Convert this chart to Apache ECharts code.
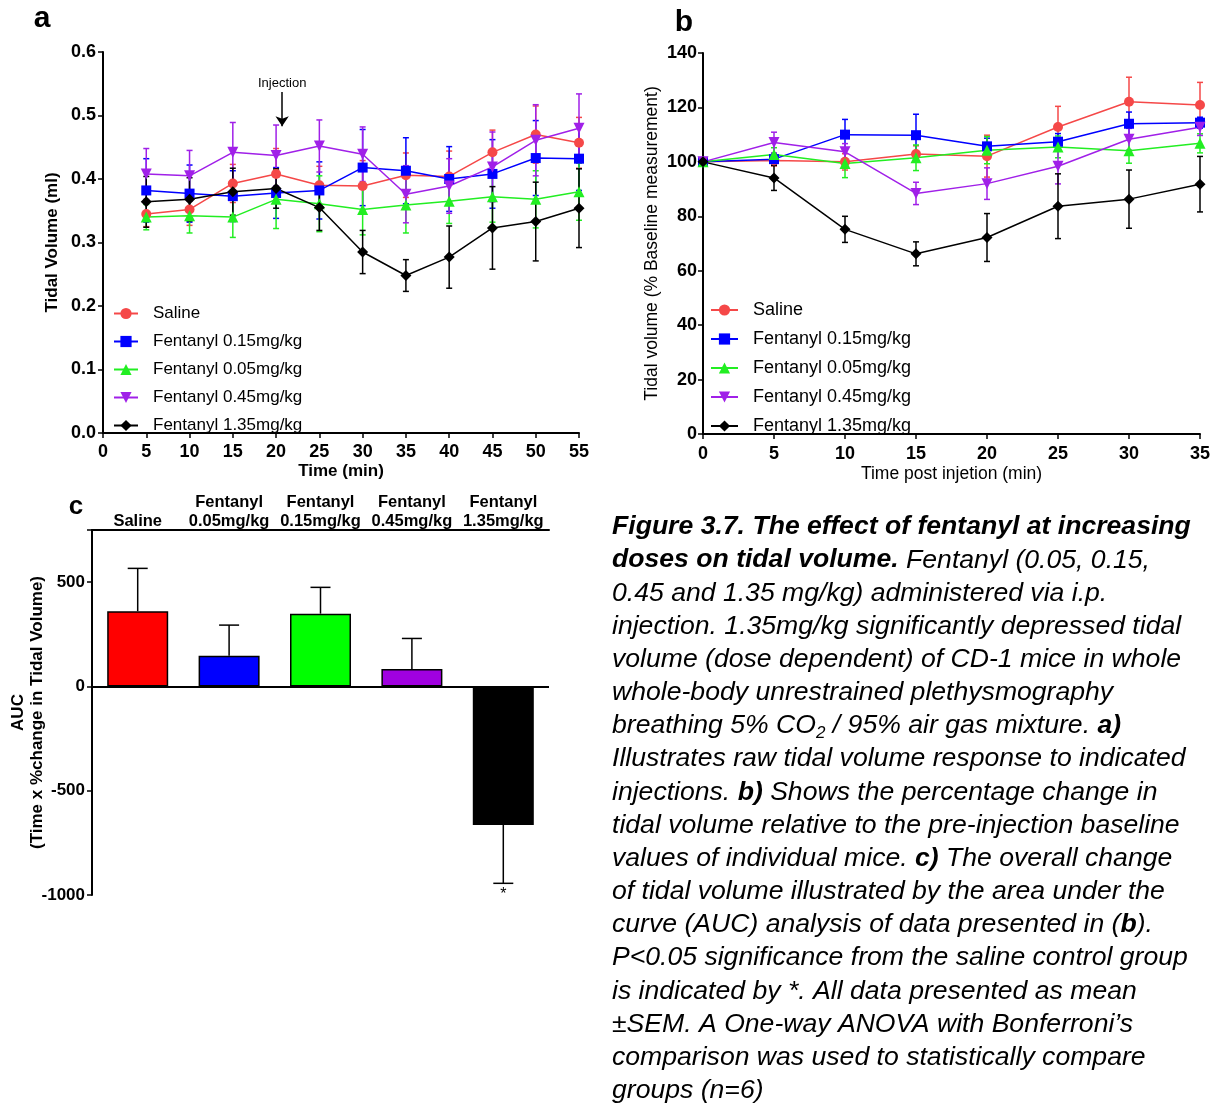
<!DOCTYPE html>
<html>
<head>
<meta charset="utf-8">
<script src="https://cdn.jsdelivr.net/npm/echarts@6/dist/echarts.min.js"></script>
<style>
html, body { margin: 0; padding: 0; background: #fff; }
#main { width: 1221px; height: 1104px; }
</style>
</head>
<body>
<div id="main"></div>
<script>
// ---- groups ----
const groupNames = ['Saline', 'Fentanyl 0.15mg/kg', 'Fentanyl 0.05mg/kg', 'Fentanyl 0.45mg/kg', 'Fentanyl 1.35mg/kg'];

// ---- panel a: raw tidal volume (ml) ----
const timeA = [5, 10, 15, 20, 25, 30, 35, 40, 45, 50, 55];
const salineA    = [0.345, 0.352, 0.393, 0.408, 0.390, 0.389, 0.406, 0.404, 0.442, 0.470, 0.457];
const salineAErr = [0.020, 0.025, 0.030, 0.040, 0.030, 0.040, 0.035, 0.040, 0.035, 0.045, 0.040];
const f015A      = [0.382, 0.377, 0.373, 0.378, 0.382, 0.418, 0.413, 0.400, 0.408, 0.433, 0.432];
const f015AErr   = [0.050, 0.045, 0.040, 0.040, 0.045, 0.060, 0.052, 0.051, 0.054, 0.059, 0.050];
const f005A      = [0.340, 0.342, 0.340, 0.368, 0.361, 0.352, 0.359, 0.365, 0.372, 0.368, 0.380];
const f005AErr   = [0.020, 0.027, 0.032, 0.046, 0.044, 0.040, 0.044, 0.035, 0.040, 0.045, 0.045];
const f045A      = [0.408, 0.405, 0.442, 0.437, 0.452, 0.439, 0.376, 0.389, 0.419, 0.461, 0.480];
const f045AErr   = [0.040, 0.040, 0.047, 0.048, 0.041, 0.043, 0.045, 0.043, 0.055, 0.056, 0.054];
const f135A      = [0.364, 0.368, 0.380, 0.385, 0.355, 0.285, 0.248, 0.277, 0.323, 0.333, 0.354];
const f135AErr   = [0.040, 0.034, 0.037, 0.031, 0.036, 0.034, 0.025, 0.049, 0.065, 0.062, 0.062];
const injectionTime = 20.7;

// ---- panel b: % of baseline ----
const timeB = [0, 5, 10, 15, 20, 25, 30, 35];
const salineB    = [100, 100.5, 100.0, 102.9, 102.1, 112.8, 122.1, 120.9];
const salineBErr = [0, 2.0, 3.0, 3.0, 7.7, 7.6, 9.0, 8.3];
const f015B      = [100, 101.0, 110.0, 109.8, 105.7, 107.4, 114.0, 114.4];
const f015BErr   = [0, 2.0, 5.6, 7.7, 3.0, 3.0, 4.3, 2.0];
const f005B      = [100, 102.7, 99.4, 101.5, 104.3, 105.5, 104.1, 106.8];
const f005BErr   = [0, 2.5, 5.2, 4.7, 5.0, 4.0, 4.6, 3.5];
const f045B      = [100, 107.1, 103.7, 88.4, 92.0, 98.4, 108.3, 112.7];
const f045BErr   = [0, 3.8, 3.0, 4.1, 5.8, 6.5, 4.0, 3.0];
const f135B      = [100, 94.1, 75.2, 66.2, 72.2, 83.7, 86.3, 91.8];
const f135BErr   = [0, 4.6, 4.8, 4.4, 8.8, 11.9, 10.7, 10.2];

// ---- panel c: AUC ----
const aucGroups = ['Saline', 'Fentanyl\n0.05mg/kg', 'Fentanyl\n0.15mg/kg', 'Fentanyl\n0.45mg/kg', 'Fentanyl\n1.35mg/kg'];
const aucMean   = [361, 147, 349, 83, -664];
const aucErr    = [205, 147, 126, 147, 280];
const aucSig    = ['', '', '', '', '*'];

// ---- styles ----
const FONT = 'Liberation Sans, Arial, Helvetica, sans-serif';
const lineColors = ['#f54848', '#0000ff', '#22ee22', '#a020e8', '#000000'];
const lineSymbols = ['circle', 'rect', 'triangle', 'triangle', 'diamond'];
const symbolRot = [0, 0, 0, 180, 0];
const symbolSz = [10, 10, 11, 11, 11];
const barColors = ['#ff0000', '#0000ff', '#00ff00', '#a000e0', '#000000'];

const seriesA = [salineA, f015A, f005A, f045A, f135A];
const errA = [salineAErr, f015AErr, f005AErr, f045AErr, f135AErr];
const seriesB = [salineB, f015B, f005B, f045B, f135B];
const errB = [salineBErr, f015BErr, f005BErr, f045BErr, f135BErr];

function errorBars(axisIdx, xs, ys, errs, color, capHalf) {
  return {
    type: 'custom', xAxisIndex: axisIdx, yAxisIndex: axisIdx, z: 1, silent: true,
    data: xs.map((x, i) => [x, ys[i] - errs[i], ys[i] + errs[i]]),
    renderItem(params, api) {
      const x = api.value(0);
      const lo = api.coord([x, api.value(1)]);
      const hi = api.coord([x, api.value(2)]);
      const st = { stroke: color, lineWidth: 1.5 };
      return {
        type: 'group', children: [
          { type: 'line', shape: { x1: lo[0], y1: lo[1], x2: hi[0], y2: hi[1] }, style: st },
          { type: 'line', shape: { x1: lo[0] - capHalf, y1: lo[1], x2: lo[0] + capHalf, y2: lo[1] }, style: st },
          { type: 'line', shape: { x1: hi[0] - capHalf, y1: hi[1], x2: hi[0] + capHalf, y2: hi[1] }, style: st }
        ]
      };
    }
  };
}

function lineSeries(axisIdx, xs, ys, i) {
  return {
    type: 'line', name: groupNames[i], xAxisIndex: axisIdx, yAxisIndex: axisIdx, z: 3,
    data: xs.map((x, k) => [x, ys[k]]),
    symbol: lineSymbols[i], symbolRotate: symbolRot[i], symbolSize: symbolSz[i],
    itemStyle: { color: lineColors[i] },
    lineStyle: { color: lineColors[i], width: 1.5 }
  };
}

const series = [];
for (let i = 0; i < 5; i++) series.push(errorBars(0, timeA, seriesA[i], errA[i], lineColors[i], 3));
for (let i = 0; i < 5; i++) series.push(lineSeries(0, timeA, seriesA[i], i));
for (let i = 0; i < 5; i++) series.push(errorBars(1, timeB, seriesB[i], errB[i], lineColors[i], 3));
for (let i = 0; i < 5; i++) series.push(lineSeries(1, timeB, seriesB[i], i));

// injection arrow on panel a
series[5].markLine = {
  silent: true, animation: false,
  symbol: ['none', 'arrow'], symbolSize: 10,
  lineStyle: { color: '#000', width: 1.5, type: 'solid' },
  label: { show: true, position: 'start', formatter: 'Injection', fontSize: 13, color: '#000', fontFamily: FONT, distance: 2 },
  data: [[{ coord: [injectionTime, 0.537] }, { coord: [injectionTime, 0.483] }]]
};

// panel c bars
series.push({
  type: 'bar', xAxisIndex: 2, yAxisIndex: 2, barWidth: 61, z: 2,
  data: aucMean.map((v, i) => ({ value: v, itemStyle: { color: barColors[i] } })),
  itemStyle: { borderColor: '#000', borderWidth: 1.5 },
  markLine: {
    silent: true, animation: false, symbol: 'none',
    lineStyle: { color: '#000', width: 2, type: 'solid' },
    label: { show: false },
    data: [{ yAxis: 0 }]
  }
});
series.push({
  type: 'custom', xAxisIndex: 2, yAxisIndex: 2, z: 1, silent: true,
  data: aucMean.map((v, i) => [i, v, v + (v < 0 ? -aucErr[i] : aucErr[i])]),
  renderItem(params, api) {
    const i = api.value(0);
    const a = api.coord([i, api.value(1)]);
    const b = api.coord([i, api.value(2)]);
    const st = { stroke: '#000', lineWidth: 1.5 };
    const kids = [
      { type: 'line', shape: { x1: a[0], y1: a[1], x2: b[0], y2: b[1] }, style: st },
      { type: 'line', shape: { x1: b[0] - 10, y1: b[1], x2: b[0] + 10, y2: b[1] }, style: st }
    ];
    if (aucSig[i]) {
      kids.push({ type: 'text', style: { text: aucSig[i], x: b[0], y: b[1] + 3, align: 'center', verticalAlign: 'top', font: '16px ' + FONT, fill: '#000' } });
    }
    return { type: 'group', children: kids };
  }
});

// ---- axes helpers ----
const axisLineStyle = { show: true, lineStyle: { color: '#000', width: 2 } };
const tickStyle = { show: true, inside: false, length: 5, lineStyle: { color: '#000', width: 1.5 } };
function labelStyle(size) { return { color: '#000', fontWeight: 'bold', fontSize: size, fontFamily: FONT }; }

// ---- caption ----
const captionLines = [
  [['bi', 'Figure 3.7. The effect of fentanyl at increasing']],
  [['bi', 'doses on tidal volume.'], ['i', ' Fentanyl (0.05, 0.15,']],
  [['i', '0.45 and 1.35 mg/kg) administered via i.p.']],
  [['i', 'injection. 1.35mg/kg significantly depressed tidal']],
  [['i', 'volume (dose dependent) of CD-1 mice in whole']],
  [['i', 'whole-body unrestrained plethysmography']],
  [['i', 'breathing 5% CO'], ['sub', '2'], ['i', ' / 95% air gas mixture. '], ['bi', 'a)']],
  [['i', 'Illustrates raw tidal volume response to indicated']],
  [['i', 'injections. '], ['bi', 'b)'], ['i', ' Shows the percentage change in']],
  [['i', 'tidal volume relative to the pre-injection baseline']],
  [['i', 'values of individual mice. '], ['bi', 'c)'], ['i', ' The overall change']],
  [['i', 'of tidal volume illustrated by the area under the']],
  [['i', 'curve (AUC) analysis of data presented in ('], ['bi', 'b'], ['i', ').']],
  [['i', 'P<0.05 significance from the saline control group']],
  [['i', 'is indicated by *. All data presented as mean']],
  [['i', '\u00b1SEM. A One-way ANOVA with Bonferroni\u2019s']],
  [['i', 'comparison was used to statistically compare']],
  [['i', 'groups (n=6)']]
];
const CAP_SIZE = 26.6;
const capRich = {
  i: { fontStyle: 'italic', fontSize: CAP_SIZE, fontFamily: FONT, color: '#000', lineHeight: 31 },
  bi: { fontStyle: 'italic', fontWeight: 'bold', fontSize: CAP_SIZE, fontFamily: FONT, color: '#000', lineHeight: 31 },
  sub: { fontStyle: 'italic', fontSize: 17, fontFamily: FONT, color: '#000', lineHeight: 20, verticalAlign: 'bottom' }
};
const graphics = captionLines.map((segs, k) => ({
  type: 'text', x: 612, y: 527 + k * 33.15, silent: true,
  style: {
    text: segs.map(s => '{' + s[0] + '|' + s[1] + '}').join(''),
    rich: capRich, verticalAlign: 'middle', align: 'left', fill: '#000'
  }
}));
graphics.push(
  { type: 'text', x: 42, y: 19, style: { text: 'a', font: 'bold 30px ' + FONT, fill: '#000', align: 'center', verticalAlign: 'middle' } },
  { type: 'text', x: 684, y: 23, style: { text: 'b', font: 'bold 30px ' + FONT, fill: '#000', align: 'center', verticalAlign: 'middle' } },
  { type: 'text', x: 76, y: 507, style: { text: 'c', font: 'bold 26px ' + FONT, fill: '#000', align: 'center', verticalAlign: 'middle' } }
);

const chart = echarts.init(document.getElementById('main'), null, { renderer: 'canvas' });
chart.setOption({
  animation: false,
  backgroundColor: '#fff',
  textStyle: { fontFamily: FONT },
  grid: [
    { left: 103, top: 52, width: 476, height: 381 },
    { left: 703, top: 53, width: 497, height: 381 },
    { left: 92, top: 530, width: 457, height: 365 }
  ],
  legend: [
    {
      data: groupNames, orient: 'vertical', left: 113, top: 305, padding: 0,
      itemWidth: 24, itemHeight: 14, itemGap: 11, selectedMode: false,
      textStyle: { fontSize: 17, color: '#000', fontFamily: FONT, padding: [0, 0, 0, 10] }
    },
    {
      data: groupNames, orient: 'vertical', left: 710, top: 301, padding: 0,
      itemWidth: 27, itemHeight: 14, itemGap: 11, selectedMode: false,
      textStyle: { fontSize: 18, color: '#000', fontFamily: FONT, padding: [0, 0, 0, 10] }
    }
  ],
  xAxis: [
    {
      type: 'value', gridIndex: 0, min: 0, max: 55, interval: 5,
      name: 'Time (min)', nameLocation: 'middle', nameGap: 30,
      nameTextStyle: labelStyle(17),
      axisLine: axisLineStyle, axisTick: tickStyle, splitLine: { show: false },
      axisLabel: Object.assign({ margin: 10 }, labelStyle(18))
    },
    {
      type: 'value', gridIndex: 1, min: 0, max: 35, interval: 5,
      name: 'Time post injetion (min)', nameLocation: 'middle', nameGap: 31,
      nameTextStyle: { color: '#000', fontSize: 17.5, fontFamily: FONT },
      axisLine: axisLineStyle, axisTick: tickStyle, splitLine: { show: false },
      axisLabel: Object.assign({ margin: 11 }, labelStyle(18))
    },
    {
      type: 'category', gridIndex: 2, position: 'top', data: aucGroups,
      axisLine: { show: true, onZero: false, lineStyle: { color: '#000', width: 2 } },
      axisTick: { show: false }, splitLine: { show: false },
      axisLabel: Object.assign({ margin: -1, interval: 0, lineHeight: 19 }, labelStyle(16.5))
    }
  ],
  yAxis: [
    {
      type: 'value', gridIndex: 0, min: 0, max: 0.6, interval: 0.1,
      name: 'Tidal Volume (ml)', nameLocation: 'middle', nameRotate: 90, nameGap: 42,
      nameTextStyle: labelStyle(17),
      axisLine: axisLineStyle, axisTick: tickStyle, splitLine: { show: false },
      axisLabel: Object.assign({ margin: 7, formatter: v => v.toFixed(1) }, labelStyle(18))
    },
    {
      type: 'value', gridIndex: 1, min: 0, max: 140, interval: 20,
      name: 'Tidal volume (% Baseline measurement)', nameLocation: 'middle', nameRotate: 90, nameGap: 42,
      nameTextStyle: { color: '#000', fontSize: 17.5, fontFamily: FONT },
      axisLine: axisLineStyle, axisTick: tickStyle, splitLine: { show: false },
      axisLabel: Object.assign({ margin: 6 }, labelStyle(18))
    },
    {
      type: 'value', gridIndex: 2, min: -1000, max: 750, interval: 500,
      name: 'AUC\n(Time x %change in Tidal Volume)', nameLocation: 'middle', nameRotate: 90, nameGap: 45,
      nameMoveOverlap: false,
      nameTextStyle: Object.assign({ lineHeight: 19, align: 'center' }, labelStyle(17)),
      axisLine: axisLineStyle, axisTick: tickStyle, splitLine: { show: false },
      axisLabel: Object.assign({ margin: 7, formatter: v => (v % 500 === 0 ? String(v) : '') }, labelStyle(17))
    }
  ],
  graphic: graphics,
  series: series
});
</script>
</body>
</html>
